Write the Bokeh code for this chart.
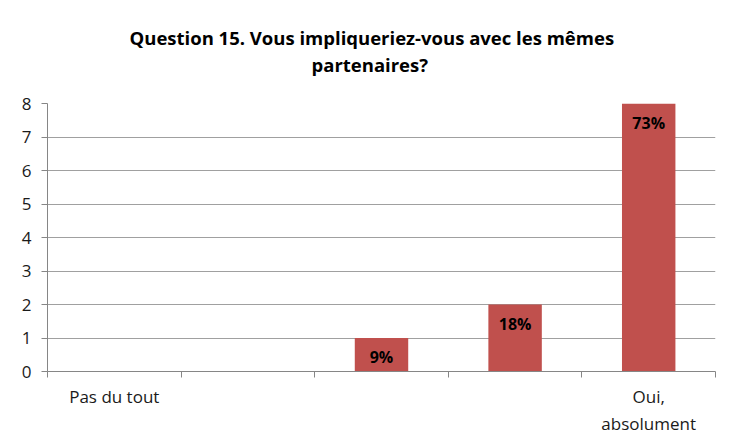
from bokeh.plotting import figure
from bokeh.models import Range1d, FixedTicker, ColumnDataSource, LabelSet, Title
from bokeh.core.properties import value
from bokeh.embed import file_html
from bokeh.resources import INLINE

categories = ["Pas du tout", "", "", "", "Oui,\nabsolument"]
values = [0, 0, 1, 2, 8]
pct_labels = ["", "", "9%", "18%", "73%"]
y_ticks = [0, 1, 2, 3, 4, 5, 6, 7, 8]
title_lines = ["Question  15. Vous impliqueriez-vous avec les mêmes", "partenaires?"]

FONT = "Open Sans"
n = len(categories)
xs = [i + 0.5 for i in range(n)]

p = figure(width=726, height=438, output_backend="svg", toolbar_location=None,
           x_range=Range1d(0, n), y_range=Range1d(0, 8),
           min_border_left=47, min_border_right=11, min_border_top=103, min_border_bottom=66)
p.title.visible = False
p.outline_line_color = None
p.background_fill_color = "white"
p.border_fill_color = "white"

src = ColumnDataSource(dict(x=xs, top=values, lab=pct_labels))
p.vbar(x="x", top="top", width=0.4, source=src, fill_color="#C0504D", line_color=None)

ls = LabelSet(x="x", y="top", text="lab", source=src, text_align="center", text_baseline="top",
              y_offset=-8, text_font=value(FONT), text_font_style="bold", text_font_size="16px",
              text_color="black")
p.add_layout(ls)

# axes
p.xaxis.ticker = FixedTicker(ticks=xs, minor_ticks=list(range(n + 1)))
p.xaxis.major_label_overrides = {x: c for x, c in zip(xs, categories)}
p.xaxis.major_tick_out = 0
p.xaxis.major_tick_in = 0
p.xaxis.minor_tick_out = 6
p.xaxis.minor_tick_in = 0
p.xaxis.minor_tick_line_color = "#868686"
p.xaxis.axis_line_color = "#868686"
p.xaxis.major_label_text_font = FONT
p.xaxis.major_label_text_font_size = "17px"
p.xaxis.major_label_text_color = "#1a1a1a"
p.xaxis.major_label_standoff = 7

p.yaxis.ticker = FixedTicker(ticks=y_ticks)
p.yaxis.minor_tick_line_color = None
p.yaxis.major_tick_out = 6
p.yaxis.major_tick_in = 0
p.yaxis.major_tick_line_color = "#868686"
p.yaxis.axis_line_color = "#868686"
p.yaxis.major_label_text_font = FONT
p.yaxis.major_label_text_font_size = "17px"
p.yaxis.major_label_text_color = "#1a1a1a"
p.yaxis.major_label_standoff = 10

p.xgrid.grid_line_color = None
p.ygrid.ticker = FixedTicker(ticks=y_ticks)
p.ygrid.grid_line_color = "#a0a0a0"
p.ygrid.grid_line_width = 1

# title (two lines, outermost added last)
p.add_layout(Title(text=title_lines[1], align="left", offset=264, standoff=54,
                   text_font=FONT, text_font_style="bold", text_font_size="18.5px",
                   text_color="black"), "above")
p.add_layout(Title(text=title_lines[0], align="left", offset=82, standoff=-54,
                   text_font=FONT, text_font_style="bold", text_font_size="18.5px",
                   text_color="black"), "above")

open("out.html", "w").write(file_html(p, INLINE))
